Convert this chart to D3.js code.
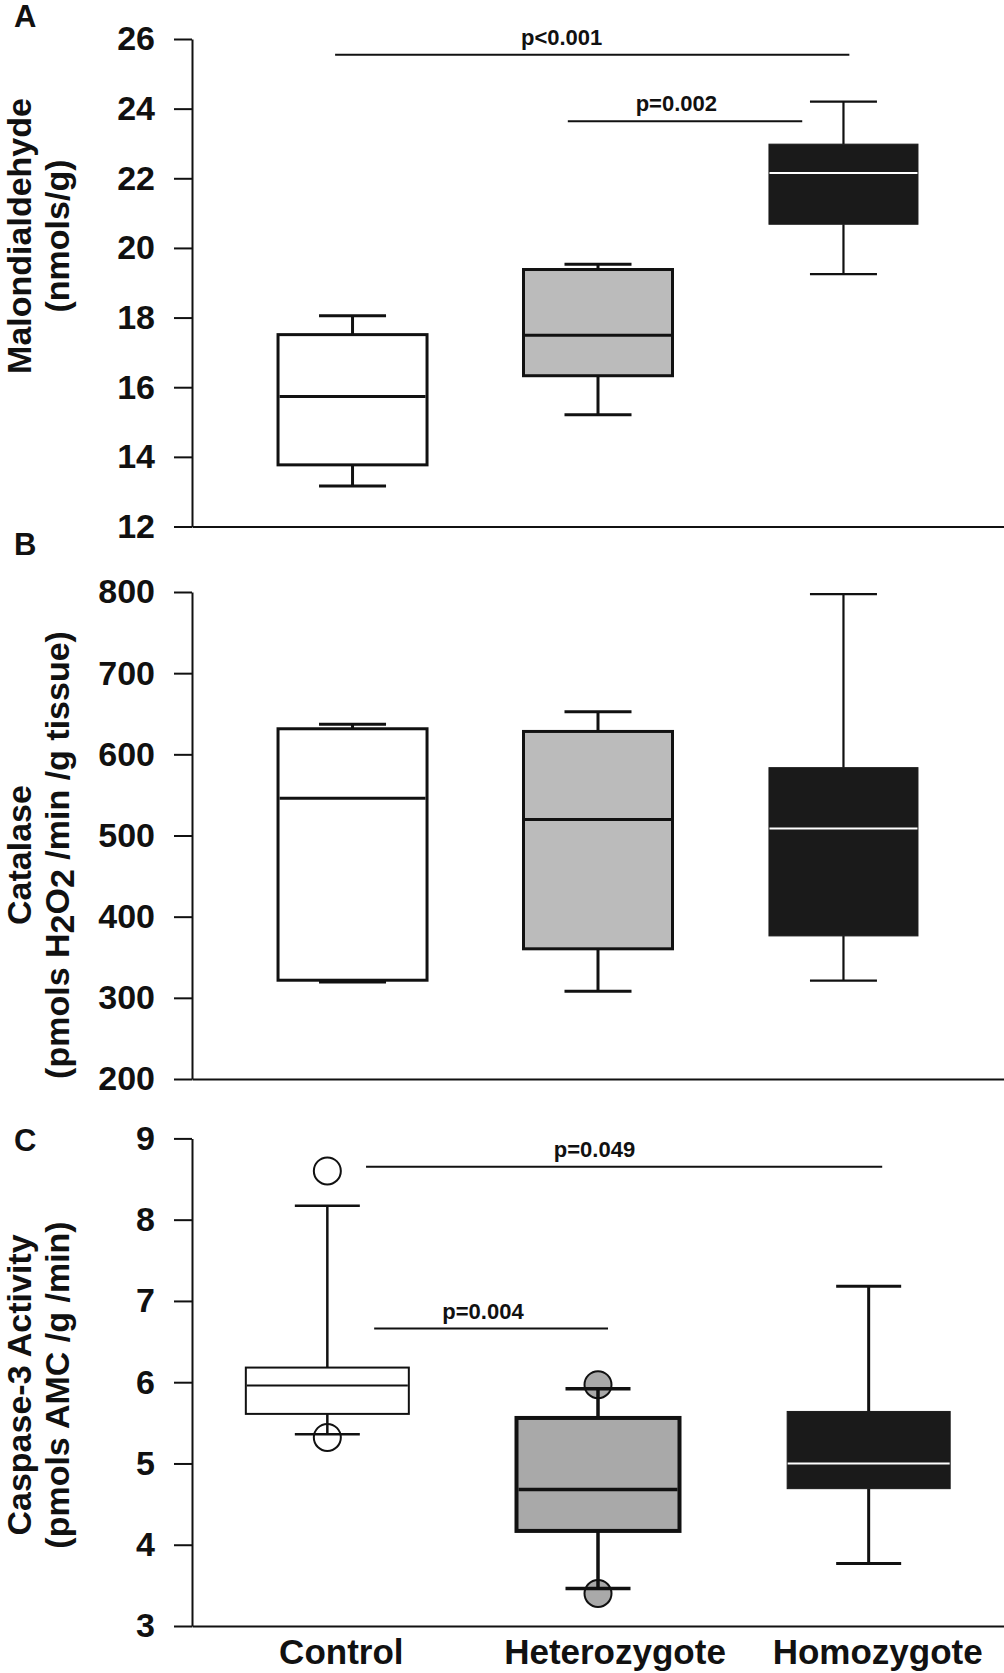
<!DOCTYPE html>
<html><head><meta charset="utf-8">
<script src="https://cdn.jsdelivr.net/npm/d3@7"></script>
<style>
html,body{margin:0;padding:0;background:#fff;}
svg{display:block;font-family:"Liberation Sans",Arial,Helvetica,sans-serif;font-weight:bold;}
</style></head><body>
<svg id="chart" width="1004" height="1673"></svg>
<script>
const categories = ["Control", "Heterozygote", "Homozygote"];

// Panel A – Malondialdehyde (nmols/g)
const mdaLow    = [13.16, 15.21, 19.25];
const mdaQ1     = [13.77, 16.33, 20.68];
const mdaMedian = [15.73, 17.49, 22.15];
const mdaQ3     = [17.51, 19.38, 22.98];
const mdaHigh   = [18.05, 19.53, 24.20];
const mdaTicks  = [12, 14, 16, 18, 20, 22, 24, 26];

// Panel B – Catalase
const catLow    = [319.4, 308.0, 321.2];
const catQ1     = [321.7, 360.4, 376.3];
const catMedian = [545.8, 519.8, 508.5];
const catQ3     = [631.5, 628.2, 583.6];
const catHigh   = [637.0, 652.4, 797.3];
const catTicks  = [200, 300, 400, 500, 600, 700, 800];

// Panel C – Caspase-3 activity
const casLow      = [5.36, 3.46, 3.77];
const casQ1       = [5.61, 4.17, 4.69];
const casMedian   = [5.96, 4.68, 5.00];
const casQ3       = [6.18, 5.56, 5.64];
const casHigh     = [8.17, 5.92, 7.18];
const casOutliers = [[8.60, 5.32], [5.97, 3.40], []];
const casTicks    = [3, 4, 5, 6, 7, 8, 9];

// Significance bars (start/end/label position in category-index units; level in data units)
const mdaSigLabels  = ["p<0.001", "p=0.002"];
const mdaSigLevel   = [25.55, 23.64];
const mdaSigStart   = [-0.071, 0.877];
const mdaSigEnd     = [2.024, 1.832];
const mdaSigLabelAt = [0.852, 1.319];

const casSigLabels  = ["p=0.049", "p=0.004"];
const casSigLevel   = [8.65, 6.66];
const casSigStart   = [0.143, 0.173];
const casSigEnd     = [2.05, 1.037];
const casSigLabelAt = [0.987, 0.575];

const svg = d3.select("#chart");
const axisX = 192, rightX = 1004;

function drawPanel(o) {
  const g = svg.append("g");
  const y = d3.scaleLinear().domain(o.domain).range([o.bottom, o.top]);
  const x = d3.scalePoint().domain(categories).range([axisX, rightX]).padding(o.padding);
  const idx = d3.scaleLinear().domain([0, 2]).range([x(categories[0]), x(categories[2])]);

  // y axis
  const ya = g.append("g").attr("transform", `translate(${axisX},0)`)
    .call(d3.axisLeft(y).tickValues(o.ticks).tickSize(18).tickSizeOuter(0).tickPadding(19).tickFormat(d3.format("d")));
  ya.select(".domain").attr("stroke", "#111").attr("stroke-width", 2);
  ya.selectAll(".tick line").attr("stroke", "#111").attr("stroke-width", 2);
  ya.selectAll(".tick text").attr("font-size", 34).attr("font-weight", "bold")
    .attr("font-family", "Liberation Sans, Arial, sans-serif").attr("fill", "#111");

  // x axis line
  const xa = g.append("g").attr("transform", `translate(0,${o.bottom})`)
    .call(d3.axisBottom(x).tickSize(0).tickSizeOuter(0).tickFormat(""));
  xa.select(".domain").attr("stroke", "#111").attr("stroke-width", 2);

  // y title
  const t = g.append("g").attr("transform", `translate(0,${o.titleY}) rotate(-90)`);
  t.append("text").attr("x", 0).attr("y", 31).attr("text-anchor", "middle")
    .attr("font-size", 34).attr("fill", "#111").text(o.title1);
  const t2 = t.append("text").attr("x", 0).attr("y", 69).attr("text-anchor", "middle")
    .attr("font-size", 34).attr("fill", "#111");
  o.title2.forEach(p => {
    const s = t2.append("tspan").text(p.t);
    if (p.sub) s.attr("dy", 5); else if (p.back) s.attr("dy", -5);
  });

  // panel letter
  g.append("text").attr("x", 14).attr("y", o.letterY).attr("font-size", 31).attr("fill", "#111").text(o.letter);

  // boxes
  categories.forEach((c, i) => {
    const st = o.styles[i];
    const cx = x(c);
    const bw = o.boxW, cw = o.capW;
    (o.outliers ? o.outliers[i] : []).forEach(v => {
      g.append("circle").attr("cx", cx).attr("cy", y(v)).attr("r", 13.5)
        .attr("fill", st.outFill).attr("stroke", "#111").attr("stroke-width", 2);
    });
    g.append("line").attr("x1", cx).attr("x2", cx).attr("y1", y(o.high[i])).attr("y2", y(o.q3[i]))
      .attr("stroke", "#111").attr("stroke-width", st.wW);
    g.append("line").attr("x1", cx).attr("x2", cx).attr("y1", y(o.q1[i])).attr("y2", y(o.low[i]))
      .attr("stroke", "#111").attr("stroke-width", st.wW);
    [o.high[i], o.low[i]].forEach(v => {
      g.append("line").attr("x1", cx - cw / 2).attr("x2", cx + cw / 2).attr("y1", y(v)).attr("y2", y(v))
        .attr("stroke", "#111").attr("stroke-width", st.wW);
    });
    g.append("rect").attr("x", cx - bw / 2).attr("width", bw)
      .attr("y", y(o.q3[i])).attr("height", y(o.q1[i]) - y(o.q3[i]))
      .attr("fill", st.fill).attr("stroke", st.stroke).attr("stroke-width", st.bW);
    g.append("line").attr("x1", cx - bw / 2 + st.bW / 2).attr("x2", cx + bw / 2 - st.bW / 2)
      .attr("y1", y(o.median[i])).attr("y2", y(o.median[i]))
      .attr("stroke", st.med).attr("stroke-width", st.mW);
  });

  // significance bars
  (o.sig || []).forEach(s => {
    g.append("line").attr("x1", idx(s.a)).attr("x2", idx(s.b)).attr("y1", y(s.v)).attr("y2", y(s.v))
      .attr("stroke", "#111").attr("stroke-width", 2);
    g.append("text").attr("x", idx(s.at)).attr("y", y(s.v) - 10).attr("text-anchor", "middle")
      .attr("font-size", 22).attr("fill", "#111").text(s.label);
  });

  // category labels
  if (o.labels) {
    categories.forEach((c, i) => {
      g.append("text").attr("x", x(c) + o.labelShift[i]).attr("y", 1664).attr("text-anchor", "middle")
        .attr("font-size", 35).attr("fill", "#111").text(c);
    });
  }
}

const stylesAB = [
  {fill: "#ffffff", stroke: "#111", bW: 3, wW: 3, med: "#111", mW: 3},
  {fill: "#bbbbbb", stroke: "#111", bW: 3, wW: 3, med: "#111", mW: 3},
  {fill: "#1a1a1a", stroke: "#1a1a1a", bW: 1, wW: 2.2, med: "#ffffff", mW: 2}
];
const stylesC = [
  {fill: "#ffffff", stroke: "#111", bW: 2, wW: 2.5, med: "#111", mW: 2, outFill: "#ffffff"},
  {fill: "#a9a9a9", stroke: "#111", bW: 4, wW: 3.5, med: "#111", mW: 3.5, outFill: "#a9a9a9"},
  {fill: "#1a1a1a", stroke: "#1a1a1a", bW: 1, wW: 3, med: "#ffffff", mW: 2}
];

drawPanel({
  domain: [12, 26], top: 39, bottom: 526.5, ticks: mdaTicks, padding: 0.654,
  low: mdaLow, q1: mdaQ1, median: mdaMedian, q3: mdaQ3, high: mdaHigh,
  styles: stylesAB, boxW: 149, capW: 67,
  title1: "Malondialdehyde", title2: [{t: "(nmols/g)"}], titleY: 236,
  letter: "A", letterY: 27,
  sig: mdaSigLabels.map((l, i) => ({label: l, v: mdaSigLevel[i], a: mdaSigStart[i], b: mdaSigEnd[i], at: mdaSigLabelAt[i]}))
});

drawPanel({
  domain: [200, 800], top: 592, bottom: 1079, ticks: catTicks, padding: 0.654,
  low: catLow, q1: catQ1, median: catMedian, q3: catQ3, high: catHigh,
  styles: stylesAB, boxW: 149, capW: 67,
  title1: "Catalase",
  title2: [{t: "(pmols H"}, {t: "2", sub: true}, {t: "O", back: true}, {t: "2", sub: true}, {t: " /min /g tissue)", back: true}],
  titleY: 855,
  letter: "B", letterY: 555
});

drawPanel({
  domain: [3, 9], top: 1138.4, bottom: 1626, ticks: casTicks, padding: 0.5,
  low: casLow, q1: casQ1, median: casMedian, q3: casQ3, high: casHigh, outliers: casOutliers,
  styles: stylesC, boxW: 163, capW: 65,
  title1: "Caspase-3 Activity", title2: [{t: "(pmols AMC /g /min)"}], titleY: 1385,
  letter: "C", letterY: 1151,
  sig: casSigLabels.map((l, i) => ({label: l, v: casSigLevel[i], a: casSigStart[i], b: casSigEnd[i], at: casSigLabelAt[i]})),
  labels: true, labelShift: [14, 17, 9]
});
</script>
</body></html>
